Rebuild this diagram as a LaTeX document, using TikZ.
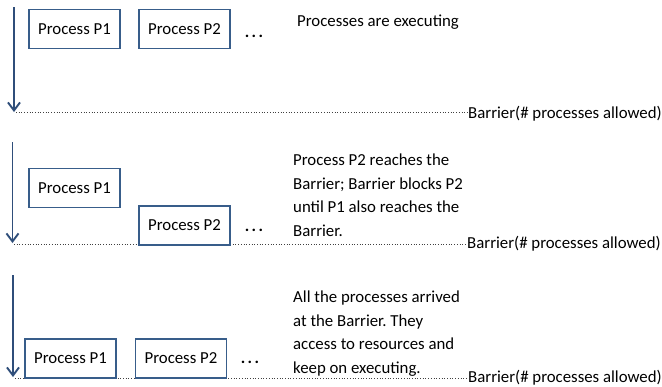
\documentclass[tikz,border=0pt]{standalone}
\usepackage{fontspec}
\setmainfont{Carlito}
\usetikzlibrary{arrows.meta}
\definecolor{boxblue}{HTML}{385D8A}
\definecolor{arrblue}{HTML}{2F4E7A}
\frenchspacing
\begin{document}
\begin{tikzpicture}[x=1pt,y=-1pt,
  proc/.style={draw=boxblue,line width=1.9pt,fill=white,minimum width=91pt,minimum height=39pt,inner sep=0pt,font=\fontsize{16.8}{20}\selectfont},
  timeline/.style={draw=arrblue,line width=1.9pt,-{Straight Barb[length=8pt,width=12pt,line width=1.9pt]}},
  barrier/.style={draw=black!75,dotted,line width=0.7pt},
  btext/.style={anchor=base west,inner sep=0pt,font=\fontsize{16.8}{20}\selectfont},
  note/.style={anchor=north west,inner sep=0pt,align=left,font=\fontsize{16.8}{23.5}\selectfont},
  dots/.style={anchor=base,inner sep=0pt,font=\fontsize{16.8}{20}\selectfont\bfseries}]
\useasboundingbox (0,0) rectangle (662,386);
\newcommand{\threedots}{.\kern2.4pt.\kern2.4pt.}
% Panel 1
\coordinate (a1s) at (14,7);
\coordinate (a1e) at (14,112);
\coordinate (l1s) at (16,112.5);
\node[btext] (b1) at (468,118) {Barrier(\# processes allowed)};
\draw[barrier] (l1s) -- (l1s -| b1.west);
\node[proc] (p11) at (74.5,29) {Process P1};
\node[proc] (p12) at (184.5,29) {Process P2};
\node[dots] (d1) at (254,37) {\threedots};
\node[btext] (n1) at (297,26) {Processes are executing};
\draw[timeline] (a1s) -- (a1e);
% Panel 2
\coordinate (a2s) at (12.5,142);
\coordinate (a2e) at (12.5,243);
\coordinate (l2s) at (14,244);
\node[btext] (b2) at (467,248) {Barrier(\# processes allowed)};
\draw[barrier] (l2s) -- (l2s -| b2.west);
\node[proc] (p21) at (74.5,188) {Process P1};
\node[proc] (p22) at (184.5,225.5) {Process P2};
\node[dots] (d2) at (254,231) {\threedots};
\node[note] (n2) at (293,154) {Process P2 reaches the\\Barrier; Barrier blocks P2\\until P1 also reaches the\\Barrier.};
\draw[timeline] (a2s) -- (a2e);
% Panel 3
\coordinate (a3s) at (13,275);
\coordinate (a3e) at (13,377);
\coordinate (l3s) at (15,378);
\node[btext] (b3) at (468,382.5) {Barrier(\# processes allowed)};
\draw[barrier] (l3s) -- (l3s -| b3.west);
\node[proc] (p31) at (70.5,358.5) {Process P1};
\node[proc] (p32) at (181,358.5) {Process P2};
\node[dots] (d3) at (250,363) {\threedots};
\node[note] (n3) at (293,291) {All the processes arrived\\at the Barrier. They\\access to resources and\\keep on executing.};
\draw[timeline] (a3s) -- (a3e);
\end{tikzpicture}
\end{document}
